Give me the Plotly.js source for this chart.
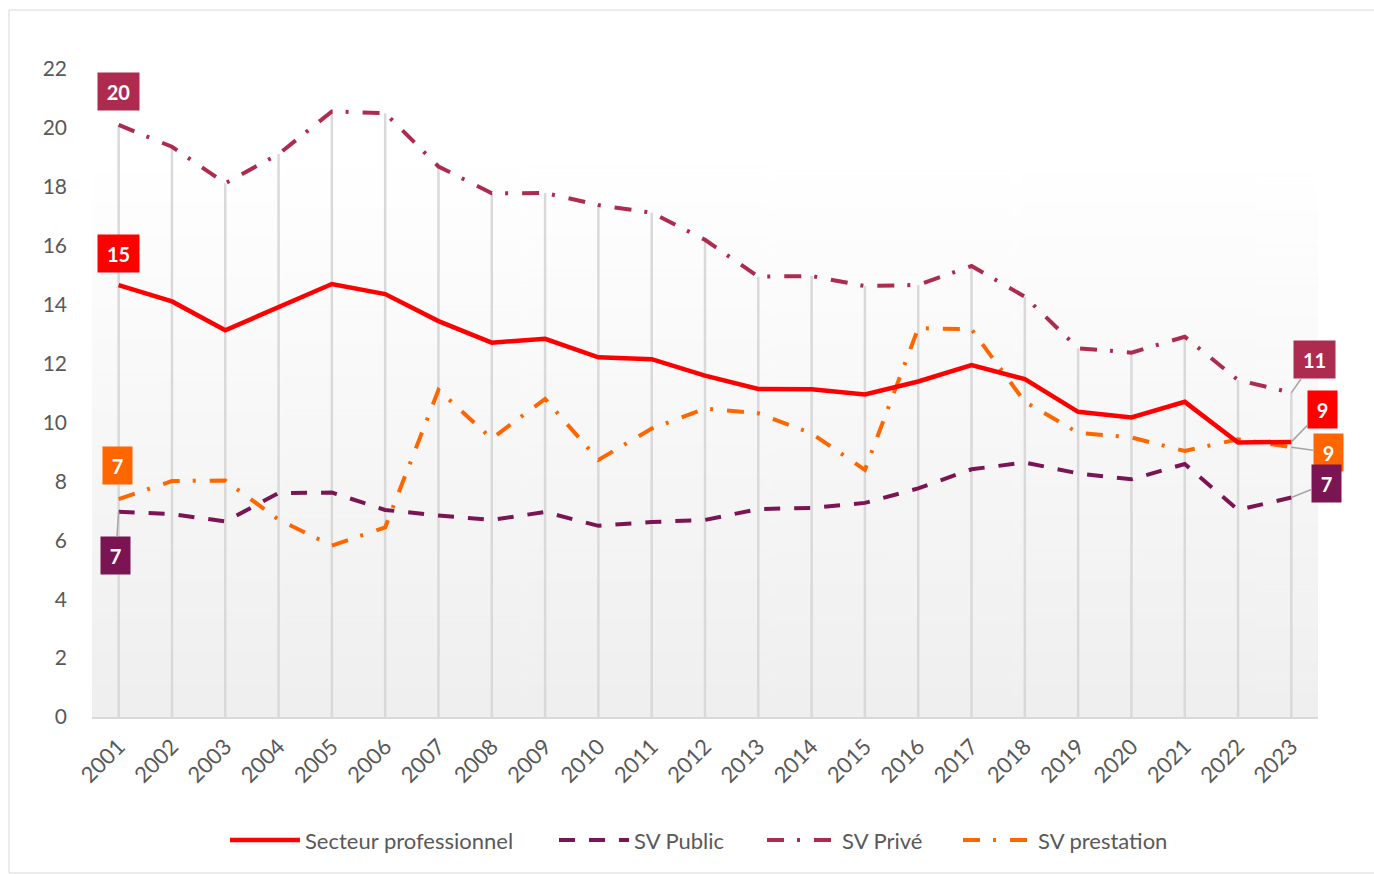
<!DOCTYPE html>
<html>
<head>
<meta charset="utf-8">
<script src="https://cdn.plot.ly/plotly-3.0.1.min.js"></script>
<style>
  html, body { margin: 0; padding: 0; background: #ffffff; }
  #chart { width: 1374px; height: 874px; }
</style>
</head>
<body>
<div id="chart"></div>
<script>
// ---- Data ----
const years = ["2001","2002","2003","2004","2005","2006","2007","2008","2009","2010","2011","2012",
               "2013","2014","2015","2016","2017","2018","2019","2020","2021","2022","2023"];
const secteurPro   = [14.66, 14.11, 13.13, 13.93, 14.70, 14.36, 13.44, 12.71, 12.84, 12.21, 12.15, 11.59,
                      11.14, 11.13, 10.95, 11.39, 11.95, 11.47, 10.36, 10.17, 10.70, 9.32, 9.34];
const svPublic     = [6.97, 6.89, 6.64, 7.60, 7.62, 7.03, 6.84, 6.69, 6.96, 6.49, 6.62, 6.69,
                      7.06, 7.10, 7.27, 7.76, 8.41, 8.64, 8.27, 8.07, 8.59, 7.03, 7.45];
const svPrive      = [20.10, 19.36, 18.12, 19.11, 20.56, 20.50, 18.69, 17.78, 17.79, 17.38, 17.12, 16.20,
                      14.95, 14.97, 14.63, 14.67, 15.31, 14.27, 12.52, 12.37, 12.91, 11.44, 11.01];
const svPrestation = [7.40, 8.01, 8.03, 6.70, 5.82, 6.44, 11.10, 9.45, 10.80, 8.73, 9.79, 10.47,
                      10.31, 9.63, 8.39, 13.20, 13.16, 10.70, 9.65, 9.49, 9.03, 9.43, 9.16];
const seriesNames  = ["Secteur professionnel", "SV Public", "SV Privé", "SV prestation"];
const yTicks = [0, 2, 4, 6, 8, 10, 12, 14, 16, 18, 20, 22];

// ---- Styles ----
const colors = { pro: "#FF0000", pub: "#7B1452", prive: "#AE2B50", prest: "#FF6600" };
const FONT = "Lato, 'Open Sans', sans-serif";
const dashDot = "17px,13px,3px,14px";
const PLOT_L = 92, PLOT_W = 1226;

// gradient background for plot area
function gradientURL() {
  const c = document.createElement("canvas");
  c.width = 10; c.height = 400;
  const g = c.getContext("2d");
  const gr = g.createLinearGradient(0, 0, 0, 400);
  gr.addColorStop(0, "#ffffff");
  gr.addColorStop(0.15, "#ffffff");
  gr.addColorStop(1, "#efefef");
  g.fillStyle = gr; g.fillRect(0, 0, 10, 400);
  return c.toDataURL("image/png");
}

// drop lines (from the highest series value down to the axis)
const dropX = [], dropY = [];
years.forEach((yr, i) => {
  const m = Math.max(secteurPro[i], svPublic[i], svPrive[i], svPrestation[i]);
  dropX.push(yr, yr, null);
  dropY.push(0, m, null);
});

const traces = [
  { x: dropX, y: dropY, type: "scatter", mode: "lines", showlegend: false, hoverinfo: "skip",
    line: { color: "#d9d9d9", width: 2.5 } },
  { x: years, y: svPrive, name: seriesNames[2], type: "scatter", mode: "lines", legend: "legend3",
    line: { color: colors.prive, width: 4, dash: dashDot } },
  { x: years, y: svPrestation, name: seriesNames[3], type: "scatter", mode: "lines", legend: "legend4",
    line: { color: colors.prest, width: 4, dash: dashDot } },
  { x: years, y: svPublic, name: seriesNames[1], type: "scatter", mode: "lines", legend: "legend2",
    line: { color: colors.pub, width: 4, dash: "16px,14px" } },
  { x: years, y: secteurPro, name: seriesNames[0], type: "scatter", mode: "lines", legend: "legend",
    line: { color: colors.pro, width: 4.5 } }
];

// data labels
const labelDefs = [
  { s: svPrive,      i: 0,  c: colors.prive, arrow: false, dx: 0,  dy: -33, w: 41 },
  { s: secteurPro,   i: 0,  c: colors.pro,   arrow: false, dx: 0,  dy: -32, w: 41 },
  { s: svPrestation, i: 0,  c: colors.prest, arrow: false, dx: -1, dy: -34, w: 29 },
  { s: svPublic,     i: 0,  c: colors.pub,   arrow: true,  dx: -3, dy: 44,  w: 29 },
  { s: svPrive,      i: 22, c: colors.prive, arrow: true,  dx: 23, dy: -33, w: 41 },
  { s: secteurPro,   i: 22, c: colors.pro,   arrow: true,  dx: 31, dy: -32, w: 29 },
  { s: svPrestation, i: 22, c: colors.prest, arrow: true,  dx: 37, dy: 5,   w: 29 },
  { s: svPublic,     i: 22, c: colors.pub,   arrow: true,  dx: 35, dy: -14, w: 29 }
];
const annotations = labelDefs.map(d => {
  const a = {
    xref: "x", yref: "y", x: d.i, y: d.s[d.i],
    text: "<b>" + Math.round(d.s[d.i]) + "</b>",
    font: { family: FONT, size: 20, color: "#ffffff" },
    bgcolor: d.c, width: d.w, height: 37, borderpad: 0, align: "center", valign: "middle"
  };
  if (d.arrow) {
    Object.assign(a, { showarrow: true, ax: d.dx, ay: d.dy, axref: "pixel", ayref: "pixel",
      arrowhead: 0, arrowwidth: 1.5, arrowcolor: "#a6a6a6", standoff: 0 });
  } else {
    Object.assign(a, { showarrow: false, xshift: d.dx, yshift: -d.dy });
  }
  return a;
});

function legendAt(px) {
  return {
    orientation: "h", x: (px - PLOT_L) / PLOT_W, xanchor: "left", y: -0.19, yanchor: "middle",
    font: { family: FONT, size: 22, color: "#595959" }, itemwidth: 70,
    bgcolor: "rgba(0,0,0,0)", borderwidth: 0
  };
}

const layout = {
  width: 1374, height: 874,
  margin: { l: 92, r: 56, t: 69, b: 157, pad: 0 },
  paper_bgcolor: "#ffffff",
  plot_bgcolor: "rgba(0,0,0,0)",
  font: { family: FONT, color: "#595959", size: 19 },
  xaxis: {
    type: "category", categoryorder: "array", categoryarray: years,
    range: [-0.5, 22.5], tickangle: -45, showgrid: false, zeroline: false,
    showline: true, linecolor: "#d9d9d9", linewidth: 2, ticks: "", ticklabelstandoff: 6,
    tickfont: { family: FONT, size: 22, color: "#595959" }, fixedrange: true
  },
  yaxis: {
    range: [0, 22], tickvals: yTicks, ticktext: yTicks.map(String), showgrid: false, zeroline: false,
    showline: false, ticks: "", ticklabelstandoff: 24,
    tickfont: { family: FONT, size: 21, color: "#595959" }, fixedrange: true
  },
  legend: legendAt(225),
  legend2: legendAt(554),
  legend3: legendAt(762),
  legend4: legendAt(958),
  images: [{
    source: gradientURL(), xref: "paper", yref: "paper", x: 0, y: 1, sizex: 1, sizey: 1,
    sizing: "stretch", xanchor: "left", yanchor: "top", layer: "below"
  }],
  shapes: [{
    type: "rect", xref: "paper", yref: "paper",
    x0: (9 - 92) / 1226, x1: (1380 - 92) / 1226,
    y0: (717 - 873) / 648, y1: (717 - 10) / 648,
    line: { color: "#d9d9d9", width: 1 }, fillcolor: "rgba(0,0,0,0)", layer: "below"
  }],
  annotations: annotations,
  showlegend: true
};

Plotly.newPlot("chart", traces, layout, { displayModeBar: false, staticPlot: true });
</script>
</body>
</html>
